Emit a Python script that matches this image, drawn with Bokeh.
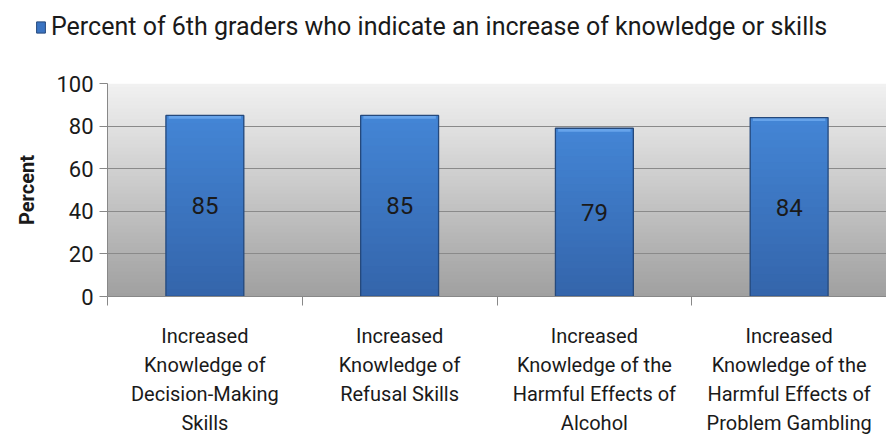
import numpy as np
from bokeh.plotting import figure
from bokeh.layouts import column
from bokeh.models import (Range1d, FixedTicker, ColumnDataSource, Legend, LegendItem,
                          LinearAxis)
from bokeh.core.properties import value
from bokeh.embed import file_html
from bokeh.resources import INLINE

categories = [
    "Increased\nKnowledge of\nDecision-Making\nSkills",
    "Increased\nKnowledge of\nRefusal Skills",
    "Increased\nKnowledge of the\nHarmful Effects of\nAlcohol",
    "Increased\nKnowledge of the\nHarmful Effects of\nProblem Gambling",
]
values = [85, 85, 79, 84]
series_name = "Percent of 6th graders who indicate an increase of knowledge or skills"
y_ticks = [0, 20, 40, 60, 80, 100]

FONT = "Roboto"
TXT = "#1a1a1a"
BAR_W = 0.4
BAR_FILL = "#3b74c2"
LEG_H = 46

x_pos = [i + 0.5 for i in range(len(categories))]
vals = np.array(values, dtype=float)
src = ColumnDataSource(dict(x=x_pos, top=values, mid=[v / 2 for v in values],
                            label=[str(v) for v in values]))


def lerp(c0, c1, t):
    c0 = np.array(c0, dtype=float)
    c1 = np.array(c1, dtype=float)
    c = (c0 + (c1 - c0) * t).astype(int)
    return "#%02x%02x%02x" % tuple(c)


def no_frame_align(fig):
    try:
        fig.frame_align = False
    except Exception:
        pass


# ---- legend strip (separate small figure above the chart) ----
lg = figure(width=886, height=LEG_H, output_backend="svg", toolbar_location=None,
            x_range=Range1d(0, len(categories)), y_range=Range1d(200, 201),
            min_border_left=0, min_border_right=0, min_border_top=0, min_border_bottom=0,
            x_axis_location=None, y_axis_location=None)
no_frame_align(lg)
lg.outline_line_color = None
lg.xgrid.visible = False
lg.ygrid.visible = False
leg_r = lg.vbar(x="x", top="top", width=BAR_W, source=src,
                fill_color=BAR_FILL, line_color="#25497c")
legend = Legend(items=[LegendItem(label=series_name, renderers=[leg_r])],
                orientation="horizontal", location=(35, 5),
                label_text_font=FONT, label_text_font_size="25px",
                label_text_color=TXT, glyph_width=11, glyph_height=14,
                border_line_color=None, background_fill_alpha=0,
                label_standoff=5, padding=2, margin=0)
lg.add_layout(legend)

# ---- main chart ----
p = figure(width=886, height=438 - LEG_H, output_backend="svg", toolbar_location=None,
           x_range=Range1d(0, len(categories)), y_range=Range1d(0, 100),
           min_border_left=107, min_border_right=0, min_border_top=83 - LEG_H,
           min_border_bottom=141,
           x_axis_location=None, y_axis_location=None)
no_frame_align(p)
p.outline_line_color = None
p.background_fill_color = "white"
p.border_fill_color = "white"

# gradient plot-area background (slightly overlapping strips to avoid seams)
n = 60
edges = np.linspace(0, 100, n + 1)
cols = [lerp((160, 160, 160), (242, 242, 242), (k + 0.5) / n) for k in range(n)]
p.quad(left=0, right=len(categories), bottom=edges[:-1],
       top=np.minimum(edges[1:] + 0.6, 100),
       fill_color=cols, line_color=None, level="underlay")

p.xgrid.grid_line_color = None
p.ygrid.grid_line_color = "#8a8a8a"
p.ygrid.grid_line_width = 1
p.ygrid.ticker = FixedTicker(ticks=y_ticks)
p.ygrid.level = "underlay"

# bars: base + vertical gradient strips + top bevel + outline
p.vbar(x="x", top="top", width=BAR_W, source=src, fill_color=BAR_FILL, line_color=None)
m = 24
for k in range(m):
    b = vals * k / m
    t = np.minimum(vals * (k + 1) / m + 0.6, vals)
    p.vbar(x=x_pos, bottom=b, top=t, width=BAR_W, line_color=None,
           fill_color=lerp((0x34, 0x65, 0xab), (0x44, 0x86, 0xd6), (k + 0.5) / m))
p.vbar(x=x_pos, bottom=vals - 1.6, top=vals, width=BAR_W * 0.93, line_color=None,
       fill_color="#66a3ea")
p.vbar(x="x", top="top", width=BAR_W, source=src,
       fill_color=None, line_color="#25497c", line_width=1.3)

p.text(x="x", y="mid", text="label", source=src, text_align="center",
       text_baseline="middle", text_font=value(FONT), text_font_size="24px",
       text_color=TXT)

# y axis
yax = LinearAxis(ticker=FixedTicker(ticks=y_ticks))
yax.axis_label = "Percent"
yax.axis_label_text_font = FONT
yax.axis_label_text_font_style = "bold"
yax.axis_label_text_font_size = "20px"
yax.axis_label_text_color = TXT
yax.axis_label_standoff = 14
yax.major_label_text_font = FONT
yax.major_label_text_font_size = "22px"
yax.major_label_text_color = TXT
yax.axis_line_color = "#888888"
yax.major_tick_line_color = "#888888"
yax.major_tick_out = 8
yax.major_tick_in = 0
yax.minor_tick_line_color = None
yax.major_label_standoff = 6
p.add_layout(yax, "left")

# x axis
xax = LinearAxis(ticker=FixedTicker(ticks=x_pos,
                                    minor_ticks=list(range(len(categories) + 1))))
xax.major_label_overrides = {xp: c for xp, c in zip(x_pos, categories)}
xax.major_label_text_font = FONT
xax.major_label_text_font_size = "20px"
xax.major_label_text_color = TXT
xax.major_label_text_line_height = 1.22
xax.major_label_standoff = 18
xax.axis_line_color = "#888888"
xax.major_tick_out = 0
xax.major_tick_in = 0
xax.minor_tick_line_color = "#888888"
xax.minor_tick_out = 9
xax.minor_tick_in = 0
p.add_layout(xax, "below")

layout = column(lg, p, spacing=0)
open("out.html", "w").write(file_html(layout, INLINE))
